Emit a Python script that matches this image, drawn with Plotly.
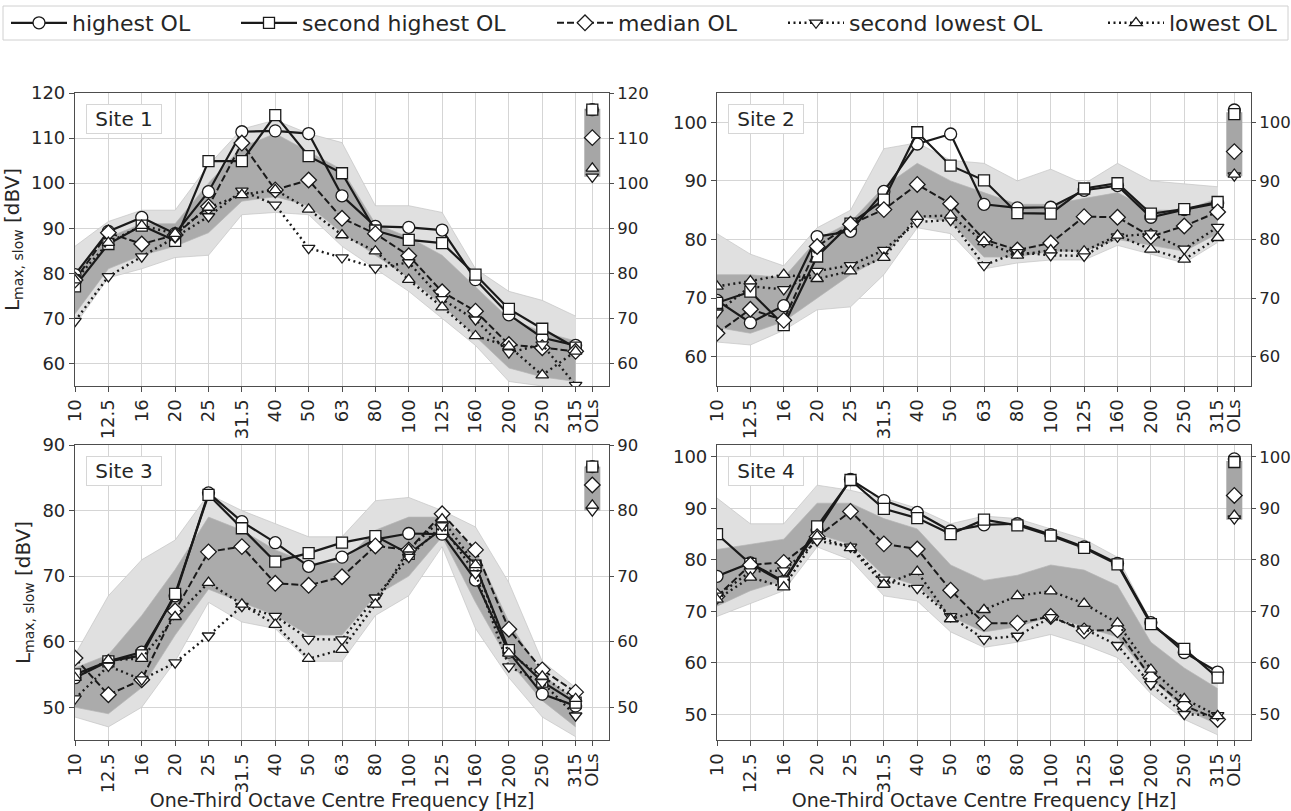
import plotly.graph_objects as go

# One-third octave band centre frequencies (Hz) plus the overall-level column
bands = ["10", "12.5", "16", "20", "25", "31.5", "40", "50", "63", "80",
         "100", "125", "160", "200", "250", "315"]
ol_label = "OLs"

# ---------------- Site 1 ----------------
s1_high = [79.7, 89.3, 92.4, 88.8, 98.1, 111.4, 111.6, 111.0, 97.2, 90.4, 90.2, 89.6, 78.6, 70.8, 65.7, 64.0]
s1_high2 = [77.1, 86.5, 90.6, 87.2, 104.9, 104.9, 115.1, 106.0, 102.2, 89.5, 87.4, 86.7, 79.7, 72.1, 67.7, 63.5]
s1_med = [78.5, 89.0, 86.5, 88.5, 94.8, 108.9, 98.5, 100.7, 92.2, 88.8, 83.9, 75.9, 71.6, 64.2, 63.5, 62.7]
s1_low2 = [69.4, 79.3, 83.7, 88.0, 92.6, 98.3, 95.2, 85.6, 83.5, 81.2, 82.4, 74.2, 69.7, 62.4, 64.2, 55.2]
s1_low = [78.5, 86.8, 90.6, 88.8, 94.6, 97.4, 98.5, 94.2, 88.5, 84.9, 78.6, 72.5, 66.1, 63.8, 57.4, 62.7]
s1_env_max = [86.0, 91.5, 94.0, 94.0, 104.0, 112.0, 114.0, 111.0, 109.0, 95.0, 95.0, 93.5, 81.0, 76.0, 74.0, 70.5]
s1_env_min = [68.5, 79.0, 81.0, 83.5, 84.0, 93.0, 93.5, 93.0, 86.0, 81.0, 76.0, 70.0, 64.0, 56.0, 55.0, 54.0]
s1_core_max = [80.0, 88.0, 91.0, 91.0, 100.0, 108.0, 111.0, 107.0, 103.0, 91.0, 88.0, 84.0, 77.0, 70.0, 67.0, 65.0]
s1_core_min = [71.0, 81.0, 84.0, 86.0, 89.0, 96.0, 97.0, 95.0, 89.0, 84.0, 79.0, 73.0, 66.0, 59.0, 57.0, 56.0]
s1_ol = [116.3, 116.3, 110.1, 101.4, 103.3]   # highest, 2nd highest, median, 2nd lowest, lowest
s1_ol_span = [101.4, 116.5]

# ---------------- Site 2 ----------------
s2_high = [69.6, 65.8, 68.7, 80.5, 81.4, 88.2, 96.3, 98.0, 86.0, 85.4, 85.5, 88.4, 89.2, 83.8, 85.1, 86.2]
s2_high2 = [69.2, 71.1, 65.4, 77.1, 82.7, 86.8, 98.3, 92.6, 90.1, 84.5, 84.4, 88.7, 89.6, 84.4, 85.2, 86.4]
s2_med = [64.0, 68.1, 66.2, 78.8, 82.6, 85.1, 89.4, 86.1, 80.0, 78.2, 79.4, 83.9, 83.8, 80.5, 82.3, 84.7]
s2_low2 = [67.5, 72.0, 71.5, 74.6, 75.6, 78.2, 83.0, 83.3, 75.6, 77.8, 77.3, 77.2, 80.5, 81.0, 78.4, 82.1]
s2_low = [72.0, 72.9, 74.0, 73.3, 74.6, 76.9, 83.9, 84.1, 79.6, 77.3, 78.2, 78.0, 80.7, 78.3, 76.6, 80.3]
s2_env_max = [81.0, 77.5, 75.5, 82.0, 85.0, 95.5, 96.5, 93.5, 93.0, 90.0, 92.0, 89.5, 93.0, 90.0, 89.5, 89.0]
s2_env_min = [62.5, 62.0, 64.5, 68.0, 68.5, 74.0, 82.0, 81.0, 75.0, 76.0, 76.5, 76.5, 79.0, 77.5, 76.0, 79.5]
s2_core_max = [74.0, 74.0, 73.5, 80.0, 83.0, 89.0, 93.0, 90.0, 88.0, 86.0, 86.0, 87.0, 88.0, 85.0, 85.0, 87.0]
s2_core_min = [65.0, 64.0, 66.0, 70.0, 74.0, 77.0, 84.0, 83.0, 77.0, 77.0, 78.0, 78.0, 80.0, 79.0, 78.0, 81.0]
s2_ol = [102.1, 101.4, 95.0, 90.9, 91.1]
s2_ol_span = [90.8, 101.7]

# ---------------- Site 3 ----------------
s3_high = [54.5, 57.0, 58.4, 67.0, 82.7, 78.3, 75.1, 71.5, 72.9, 75.6, 76.5, 76.4, 69.4, 58.4, 52.0, 50.2]
s3_high2 = [55.0, 57.0, 57.9, 67.3, 82.4, 77.3, 72.2, 73.5, 75.1, 76.1, 73.4, 77.2, 71.6, 58.7, 53.9, 50.7]
s3_med = [57.5, 51.9, 54.2, 64.7, 73.7, 74.5, 68.9, 68.6, 69.9, 74.6, 74.0, 79.5, 74.0, 61.9, 55.7, 52.3]
s3_low2 = [51.3, 56.3, 54.2, 56.8, 60.9, 65.4, 63.9, 60.4, 60.3, 66.7, 72.9, 77.7, 70.4, 56.2, 53.8, 48.7]
s3_low = [54.5, 57.2, 57.4, 63.8, 69.0, 65.7, 62.6, 57.4, 58.8, 65.7, 74.1, 78.7, 71.7, 58.2, 54.7, 51.3]
s3_env_max = [58.0, 67.0, 72.5, 75.5, 82.5, 80.0, 78.0, 76.0, 76.0, 81.5, 82.0, 80.0, 77.5, 69.0, 57.0, 53.0]
s3_env_min = [48.5, 47.0, 50.0, 57.0, 66.0, 63.0, 62.0, 57.0, 57.0, 64.0, 67.0, 74.5, 62.0, 54.5, 48.5, 45.5]
s3_core_max = [56.0, 58.0, 64.0, 71.0, 79.0, 77.0, 74.0, 72.0, 72.0, 77.0, 79.0, 79.0, 74.0, 63.0, 55.0, 51.0]
s3_core_min = [50.0, 49.0, 53.0, 61.0, 68.0, 66.0, 64.0, 61.0, 61.0, 67.0, 70.0, 76.0, 66.0, 57.0, 51.0, 47.0]
s3_ol = [86.7, 86.7, 83.9, 80.0, 80.8]
s3_ol_span = [80.0, 86.7]

# ---------------- Site 4 ----------------
s4_high = [76.8, 79.4, 75.8, 85.8, 95.6, 91.5, 89.2, 85.6, 86.8, 87.0, 84.9, 82.5, 79.3, 67.8, 62.0, 58.2]
s4_high2 = [85.0, 79.2, 75.6, 86.5, 95.5, 89.9, 88.1, 85.0, 87.8, 86.7, 84.7, 82.3, 79.1, 67.5, 62.7, 57.1]
s4_med = [72.9, 79.0, 79.5, 84.5, 89.4, 83.1, 82.1, 74.1, 67.7, 67.7, 69.0, 66.2, 66.4, 57.1, 51.7, 49.0]
s4_low2 = [73.0, 77.7, 77.9, 83.7, 82.5, 76.1, 74.5, 69.0, 64.6, 65.2, 68.8, 66.6, 63.4, 55.8, 50.0, 49.8]
s4_low = [72.3, 76.6, 74.7, 84.6, 82.3, 75.2, 77.7, 68.5, 70.3, 73.0, 73.9, 71.5, 67.7, 58.7, 53.0, 49.7]
s4_env_max = [92.0, 87.0, 87.0, 94.5, 93.5, 92.0, 90.0, 87.0, 88.5, 88.0, 86.0, 84.0, 80.5, 68.0, 62.0, 58.5]
s4_env_min = [69.0, 71.5, 74.0, 82.5, 80.0, 73.0, 72.0, 66.0, 63.0, 64.0, 65.5, 63.5, 61.0, 54.0, 49.0, 46.0]
s4_core_max = [82.0, 83.0, 84.0, 91.0, 91.0, 88.0, 86.0, 79.0, 76.0, 77.0, 79.0, 78.0, 75.0, 64.0, 59.0, 55.0]
s4_core_min = [71.0, 74.0, 76.0, 85.0, 83.0, 77.0, 75.0, 69.0, 66.0, 67.0, 69.0, 67.0, 65.0, 57.0, 51.0, 48.0]
s4_ol = [99.6, 99.0, 92.5, 88.0, 88.6]
s4_ol_span = [87.8, 99.2]

sites = [
    ("Site 1", [s1_high, s1_high2, s1_med, s1_low2, s1_low], s1_env_max, s1_env_min,
     s1_core_max, s1_core_min, s1_ol, s1_ol_span, [55, 120], [60, 70, 80, 90, 100, 110, 120]),
    ("Site 2", [s2_high, s2_high2, s2_med, s2_low2, s2_low], s2_env_max, s2_env_min,
     s2_core_max, s2_core_min, s2_ol, s2_ol_span, [55, 105], [60, 70, 80, 90, 100]),
    ("Site 3", [s3_high, s3_high2, s3_med, s3_low2, s3_low], s3_env_max, s3_env_min,
     s3_core_max, s3_core_min, s3_ol, s3_ol_span, [45, 90], [50, 60, 70, 80, 90]),
    ("Site 4", [s4_high, s4_high2, s4_med, s4_low2, s4_low], s4_env_max, s4_env_min,
     s4_core_max, s4_core_min, s4_ol, s4_ol_span, [45, 102.3], [50, 60, 70, 80, 90, 100]),
]

series_names = ["highest OL", "second highest OL", "median OL", "second lowest OL", "lowest OL"]
series_symbols = ["circle", "square", "diamond", "triangle-down", "triangle-up"]
series_dash = ["solid", "solid", "7px,3px", "2px,3.5px", "2px,3.5px"]
series_width = [2.2, 2.2, 2.0, 2.4, 2.4]
series_msize = [12, 11, 12, 11, 11]
legend_ids = ["legend", "legend2", "legend3", "legend4", "legend5"]
legend_x_px = [6, 236, 552, 783, 1103]

INK = "#1a1a1a"
TXT = "#262626"
FONT = "DejaVu Sans"
band_x = list(range(len(bands)))
ol_x = len(bands) - 0.5
tick_vals = band_x + [ol_x]
tick_text = bands + [ol_label]

# plot-area domains (paper fractions)
W, H = 1291, 811
x_doms = [[75 / W, 609 / W], [717 / W, 1251 / W], [75 / W, 609 / W], [717 / W, 1251 / W]]
y_doms = [[1 - 386 / H, 1 - 93 / H], [1 - 386 / H, 1 - 93 / H],
          [1 - 740 / H, 1 - 445 / H], [1 - 740 / H, 1 - 445 / H]]

fig = go.Figure()
layout = {}
annotations = []

for i, (name, series, emax, emin, cmax, cmin, ol, ol_span, yr, yt) in enumerate(sites):
    k = i + 1
    xa = "x" if k == 1 else f"x{k}"
    ya = "y" if k == 1 else f"y{k}"
    ya_r = f"y{k + 4}"

    # spread of all recorded events: outer envelope and dense core
    fig.add_trace(go.Scatter(x=band_x, y=emin, xaxis=xa, yaxis=ya, mode="lines",
                             line=dict(width=0.7, color="#c4c4c4"), showlegend=False, hoverinfo="skip"))
    fig.add_trace(go.Scatter(x=band_x, y=emax, xaxis=xa, yaxis=ya, mode="lines", fill="tonexty",
                             fillcolor="#e0e0e0", line=dict(width=0.7, color="#c4c4c4"),
                             showlegend=False, hoverinfo="skip"))
    fig.add_trace(go.Scatter(x=band_x, y=cmin, xaxis=xa, yaxis=ya, mode="lines",
                             line=dict(width=0.7, color="#b5b5b5"), showlegend=False, hoverinfo="skip"))
    fig.add_trace(go.Scatter(x=band_x, y=cmax, xaxis=xa, yaxis=ya, mode="lines", fill="tonexty",
                             fillcolor="#ababab", line=dict(width=0.7, color="#b5b5b5"),
                             showlegend=False, hoverinfo="skip"))

    # overall-level span bar
    fig.add_trace(go.Bar(x=[ol_x], y=[ol_span[1] - ol_span[0]], base=[ol_span[0]], width=0.48,
                         marker=dict(color="#a6a6a6", line=dict(width=0)),
                         xaxis=xa, yaxis=ya_r, showlegend=False, hoverinfo="skip"))

    for j in range(5):
        fig.add_trace(go.Scatter(
            x=band_x, y=series[j], xaxis=xa, yaxis=ya, mode="lines+markers",
            name=series_names[j], legendgroup=series_names[j], showlegend=(i == 0),
            legend=legend_ids[j],
            line=dict(color=INK, width=series_width[j], dash=series_dash[j]),
            marker=dict(symbol=series_symbols[j], size=series_msize[j], color="white",
                        line=dict(color=INK, width=1.3)),
        ))
    for j in range(5):
        fig.add_trace(go.Scatter(
            x=[ol_x], y=[ol[j]], xaxis=xa, yaxis=ya_r, mode="markers",
            showlegend=False, hoverinfo="skip",
            marker=dict(symbol=series_symbols[j], size=series_msize[j], color="white",
                        line=dict(color=INK, width=1.3)),
        ))

    axis_common = dict(showline=True, linecolor="#4d4d4d", linewidth=1.2, ticks="outside",
                       ticklen=5, tickcolor="#4d4d4d", tickfont=dict(size=18, color=TXT, family=FONT),
                       gridcolor="#d5d5d5", gridwidth=1, zeroline=False, automargin=False)
    xkey = "xaxis" if k == 1 else f"xaxis{k}"
    ykey = "yaxis" if k == 1 else f"yaxis{k}"
    xdef = dict(axis_common, domain=x_doms[i], anchor=ya, range=[0, 16], mirror=True,
                tickmode="array", tickvals=tick_vals, ticktext=tick_text, tickangle=-90)
    if k > 2:
        xdef["title"] = dict(text="One-Third Octave Centre Frequency [Hz]",
                             font=dict(size=19, color=TXT, family=FONT), standoff=2)
    ydef = dict(axis_common, domain=y_doms[i], anchor=xa, range=yr, mirror=True,
                tickmode="array", tickvals=yt)
    if k in (1, 3):
        ydef["title"] = dict(text="L<sub>max, slow</sub> [dBV]",
                             font=dict(size=20, color=TXT, family=FONT), standoff=6)
    layout[xkey] = xdef
    layout[ykey] = ydef
    right_axis = dict(axis_common, overlaying=ya, anchor=xa, side="right", range=yr,
                      showline=False, showgrid=False, tickmode="array", tickvals=yt, ticklen=4)
    right_axis["tickfont"] = dict(size=16.5, color=TXT, family=FONT)
    layout[f"yaxis{k + 4}"] = right_axis

    annotations.append(dict(text=" " + name + " ", xref=f"{xa} domain", yref=f"{ya} domain",
                            x=0.02, y=0.962, xanchor="left", yanchor="top", showarrow=False,
                            font=dict(size=20, color=TXT, family=FONT),
                            bgcolor="white", bordercolor="#d6d6d6", borderwidth=1, borderpad=2))

legends = {}
for j, lid in enumerate(legend_ids):
    legends[lid] = dict(orientation="h", x=legend_x_px[j] / W, y=1 - 23 / H,
                        xanchor="left", yanchor="middle",
                        font=dict(size=22, family=FONT, color=TXT),
                        bgcolor="rgba(0,0,0,0)", borderwidth=0, itemwidth=56)

fig.update_layout(
    width=W, height=H,
    margin=dict(l=0, r=0, t=0, b=0, autoexpand=False),
    paper_bgcolor="white", plot_bgcolor="white",
    font=dict(family=FONT, color=TXT),
    barmode="overlay",
    annotations=annotations,
    shapes=[dict(type="rect", xref="paper", yref="paper",
                 x0=3 / W, x1=1288 / W, y0=1 - 40 / H, y1=1 - 6 / H,
                 line=dict(color="#d0d0d0", width=1), fillcolor="rgba(0,0,0,0)", layer="below")],
    **legends,
    **layout,
)

fig.write_html("out.html")
